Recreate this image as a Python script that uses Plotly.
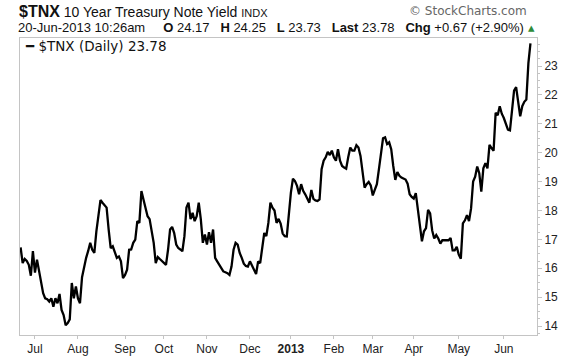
import pandas as pd
import plotly.graph_objects as go

# ---- data ----
start_date = "2012-06-21"
end_date = "2013-06-20"
market_holidays = ["2012-07-04", "2012-09-03", "2012-10-29", "2012-10-30", "2012-11-22",
                   "2012-12-25", "2013-01-01", "2013-01-21", "2013-02-18", "2013-03-29",
                   "2013-05-27"]

tnx_close = [
    16.72, 16.18, 16.32, 16.25, 16.12, 15.74, 16.59, 15.85, 16.30, 15.95,
    15.55, 15.14, 14.96, 14.93, 14.85, 14.96, 14.67, 14.96, 14.79, 15.11,
    14.56, 14.38, 14.03, 14.10, 14.23, 15.49, 14.96, 15.37, 14.96, 14.79,
    15.69, 16.06, 16.36, 16.60, 16.88, 16.64, 16.53, 17.28, 17.92, 18.36,
    18.27, 18.18, 18.10, 17.34, 16.70, 16.76, 16.53, 16.36, 16.41, 16.24,
    15.66, 15.77, 15.95, 16.64, 16.65, 16.88, 16.99, 17.63, 17.57, 18.67,
    18.38, 18.04, 17.80, 17.70, 17.34, 16.88, 16.18, 16.39, 16.32, 16.25,
    16.20, 16.12, 16.64, 17.34, 17.43, 17.22, 16.82, 16.70, 16.65, 16.59,
    17.11, 18.10, 18.27, 17.70, 17.92, 17.63, 17.80, 18.27, 17.70, 16.88,
    17.17, 16.82, 17.25, 16.88, 17.34, 16.36, 16.24, 16.12, 16.00, 15.89,
    15.86, 15.83, 15.77, 16.06, 16.64, 16.88, 16.82, 16.53, 16.36, 16.16,
    16.08, 16.06, 16.24, 16.06, 15.95, 15.80, 16.24, 16.18, 16.70, 17.22,
    17.11, 17.57, 18.27, 18.10, 18.00, 17.57, 17.71, 17.55, 17.20, 17.11,
    17.10, 17.92, 18.62, 19.10, 19.02, 18.85, 18.56, 18.91, 18.68, 18.56,
    18.38, 18.27, 18.71, 18.40, 18.35, 18.33, 18.38, 19.43, 19.72, 19.84,
    20.03, 19.92, 20.07, 19.84, 19.72, 20.12, 19.72, 19.54, 19.49, 19.45,
    19.84, 20.18, 20.07, 20.07, 20.26, 20.18, 19.89, 19.25, 18.79, 18.91,
    18.99, 18.87, 18.52, 18.72, 18.91, 19.43, 19.89, 20.50, 20.53, 20.30,
    20.36, 20.12, 19.54, 19.06, 19.33, 19.20, 19.14, 19.10, 19.07, 18.93,
    18.56, 18.47, 18.41, 18.60, 18.04, 17.51, 16.93, 17.28, 17.39, 18.02,
    17.90, 17.31, 17.03, 17.15, 17.03, 16.85, 16.97, 16.97, 16.97, 16.97,
    17.05, 16.62, 16.62, 16.74, 16.47, 16.33, 17.55, 17.66, 17.84, 17.63,
    18.07, 19.00, 19.17, 19.52, 19.29, 18.65, 19.46, 19.64, 19.46, 20.27,
    20.16, 20.07, 21.38, 21.30, 21.61, 21.35, 21.20, 20.97, 20.80, 20.77,
    21.55, 22.15, 22.27, 21.84, 21.26, 21.61, 21.76, 21.84, 23.10, 23.78,
]

month_labels = ["Jul", "Aug", "Sep", "Oct", "Nov", "Dec", "<b>2013</b>",
                "Feb", "Mar", "Apr", "May", "Jun"]
y_ticks = [14, 15, 16, 17, 18, 19, 20, 21, 22, 23]

# ---- trading calendar ----
days = pd.bdate_range(start_date, end_date)
days = days[~days.isin(pd.to_datetime(market_holidays))]
n = min(len(days), len(tnx_close))
x_idx = list(range(n))
yvals = tnx_close[:n]

month_keys = [(d.year, d.month) for d in days[:n]]
tick_pos = [i for i in range(1, n) if month_keys[i] != month_keys[i - 1]]

fig = go.Figure()
fig.add_trace(go.Scatter(
    x=x_idx, y=yvals, mode="lines",
    line=dict(color="#000000", width=2.3),
    hoverinfo="skip", showlegend=False,
))

W, H = 576, 356
L, R, T, B = 20, 39, 38, 21
pw, ph = W - L - R, H - T - B


def px_x(px):
    return (px - L) / pw


def px_y(py):
    return (H - B - py) / ph


axis_col = "#c4c4c4"
fig.update_layout(
    width=W, height=H,
    margin=dict(l=L, r=R, t=T, b=B, autoexpand=False),
    paper_bgcolor="white", plot_bgcolor="white",
    font=dict(family="Liberation Sans, Arial, sans-serif", color="#222222"),
    xaxis=dict(
        range=[-0.3, 252.2], automargin=False,
        tickmode="array", tickvals=tick_pos, ticktext=month_labels[:len(tick_pos)],
        ticks="outside", ticklen=3, tickcolor=axis_col,
        tickfont=dict(size=12, color="#222222"),
        showgrid=False, zeroline=False,
        showline=True, linecolor=axis_col, linewidth=1, mirror=True,
    ),
    yaxis=dict(
        side="right", range=[13.69, 23.97], automargin=False,
        tickmode="array", tickvals=y_ticks,
        ticks="outside", ticklen=4, tickcolor=axis_col,
        tickfont=dict(size=12, color="#222222"),
        minor=dict(dtick=0.25, ticks="outside", ticklen=2, tickcolor=axis_col),
        showgrid=False, zeroline=False,
        showline=True, linecolor=axis_col, linewidth=1, mirror=True,
    ),
)

ann = []
ann.append(dict(
    x=px_x(17), y=px_y(11), xref="paper", yref="paper", xanchor="left", yanchor="middle",
    showarrow=False, align="left",
    text="<b><span style='font-size:16px'>$TNX</span></b> 10 Year Treasury Note Yield "
         "<span style='font-size:11px'>INDX</span>",
    font=dict(family="Liberation Sans, Arial, sans-serif", size=14, color="#111111"),
))
ann.append(dict(
    x=px_x(529), y=px_y(11), xref="paper", yref="paper", xanchor="right", yanchor="middle",
    showarrow=False, text="© StockCharts.com",
    font=dict(family="DejaVu Sans, sans-serif", size=12, color="#666666"),
))
ann.append(dict(
    x=px_x(16), y=px_y(27), xref="paper", yref="paper", xanchor="left", yanchor="middle",
    showarrow=False, align="left",
    text="20-Jun-2013 10:26am&nbsp;&nbsp;&nbsp;&nbsp;&nbsp;<b>O</b> 24.17&nbsp;&nbsp;&nbsp;"
         "<b>H</b> 24.25&nbsp;&nbsp;&nbsp;"
         "<b>L</b> 23.73&nbsp;&nbsp;&nbsp;"
         "<b>Last</b> 23.78&nbsp;&nbsp;&nbsp;"
         "<b>Chg</b> +0.67 (+2.90%) "
         "<span style='color:#2e8b3a'>▴</span>",
    font=dict(family="Liberation Sans, Arial, sans-serif", size=13, color="#111111"),
))
ann.append(dict(
    x=px_x(23), y=px_y(45.5), xref="paper", yref="paper", xanchor="left", yanchor="middle",
    showarrow=False, align="left",
    text="<b>━</b> $TNX (Daily) 23.78",
    font=dict(family="DejaVu Sans, Verdana, sans-serif", size=13.5, color="#111111"),
))
fig.update_layout(annotations=ann)

# remove the browser's default 8px page margin so the figure sits at the window origin
fig.write_html("out.html", config={"displayModeBar": False},
               post_script="document.body.style.margin='0px';")
